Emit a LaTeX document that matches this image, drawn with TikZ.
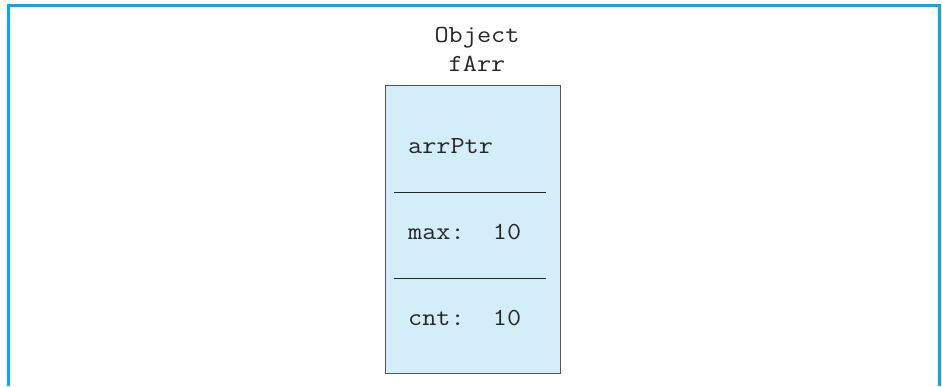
\documentclass[tikz,border=0pt]{standalone}
\usepackage{fontspec}
\setmonofont[FakeStretch=1.12]{Latin Modern Mono}
\definecolor{framecol}{HTML}{00AEEF}
\definecolor{boxfill}{HTML}{D4EEF9}
\definecolor{boxline}{HTML}{555555}
\tikzset{
  lbl/.style={font=\ttfamily\fontsize{24.5}{28}\selectfont, inner sep=0pt, text=black!85},
  field/.style={lbl, anchor=base west},
  divider/.style={draw=black!85, line width=0.9pt}
}
\begin{document}
\begin{tikzpicture}[x=1pt,y=-1pt]
\useasboundingbox (0,0) rectangle (942,386);
\draw[framecol, line width=3pt] (8,386) -- (8,5) -- (939.5,5) -- (939.5,386);
\node[draw=boxline, fill=boxfill, line width=1pt, minimum width=175pt, minimum height=288pt, inner sep=0pt] (box) at (472.5,229) {};
\node[lbl, anchor=base] (obj) at (477,42) {Object};
\node[lbl, anchor=base] (name) at (477,71) {fArr};
\node[field] (ptr) at (408,153) {arrPtr};
\node[field] (max) at (408,239) {max:\ \ 10};
\node[field] (cnt) at (408,325) {cnt:\ \ 10};
\coordinate (d1a) at (394,192); \coordinate (d1b) at (546,192);
\coordinate (d2a) at (394,278); \coordinate (d2b) at (546,278);
\draw[divider] (d1a) -- (d1b);
\draw[divider] (d2a) -- (d2b);
\end{tikzpicture}
\end{document}
